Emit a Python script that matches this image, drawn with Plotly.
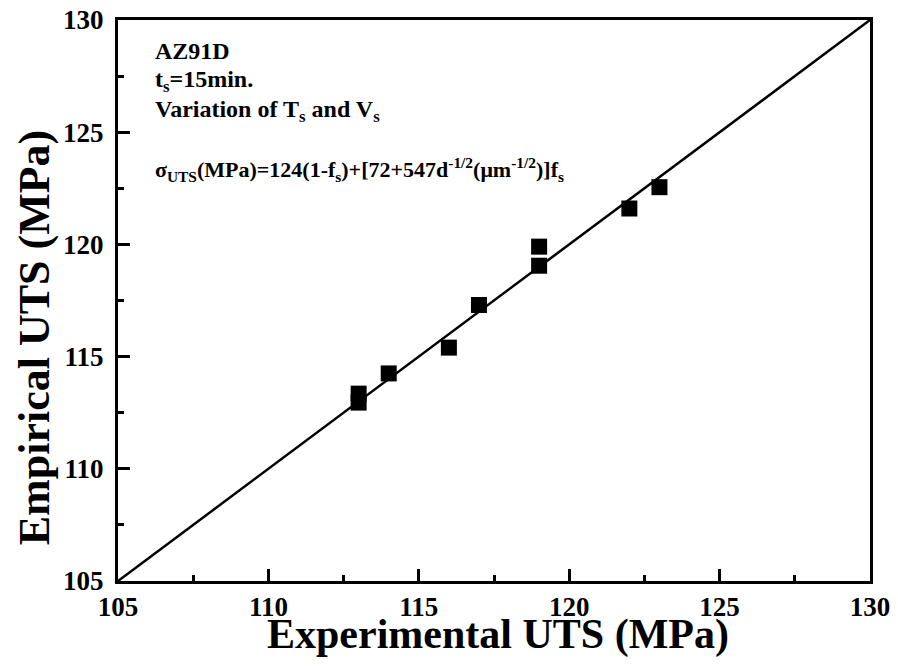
import plotly.graph_objects as go

experimental_uts = [113, 113, 114, 116, 117, 119, 119, 122, 123]
empirical_uts = [113.35, 112.95, 114.25, 115.4, 117.3, 119.9, 119.05, 121.6, 122.55]
line_x = [105, 130]
line_y = [105, 130]
tick_vals = [105, 110, 115, 120, 125, 130]

FONT = "Liberation Serif"

fig = go.Figure()
fig.add_trace(go.Scatter(x=line_x, y=line_y, mode="lines",
                         line=dict(color="black", width=2.5), showlegend=False))
fig.add_trace(go.Scatter(x=experimental_uts, y=empirical_uts, mode="markers",
                         marker=dict(symbol="square", size=16, color="black"),
                         showlegend=False))

axis_common = dict(
    showgrid=False, zeroline=False, showline=True, linecolor="black", linewidth=3,
    mirror=True, ticks="inside", ticklen=12, tickwidth=2.5, tickcolor="black",
    tickvals=tick_vals, automargin=False, ticklabeloverflow="allow",
    tickfont=dict(family=FONT, size=27, color="black", weight=700),
    minor=dict(ticks="inside", ticklen=6, tickwidth=2.5, tickcolor="black", dtick=2.5),
)

fig.update_xaxes(range=[105, 130], **axis_common)
fig.update_yaxes(range=[105, 130], ticklabelstandoff=6, **axis_common)

# axis titles
fig.add_annotation(text="Experimental UTS (MPa)", xref="paper", yref="paper",
                   x=0.505, y=-0.096, xanchor="center", yanchor="middle", showarrow=False,
                   font=dict(family=FONT, size=42, color="black", weight=700))
fig.add_annotation(text="Empirical UTS (MPa)", xref="paper", yref="paper",
                   x=-0.110, y=0.435, xanchor="center", yanchor="middle", showarrow=False,
                   textangle=-90,
                   font=dict(family=FONT, size=44, color="black", weight=700))

texts = [
    ("AZ91D", 0.945, 24),
    ("t<sub>s</sub>=15min.", 0.891, 24),
    ("Variation of T<sub>s</sub> and V<sub>s</sub>", 0.838, 24),
    ("σ<sub>UTS</sub>(MPa)=124(1-f<sub>s</sub>)+[72+547d<sup>-1/2</sup>(μm<sup>-1/2</sup>)]f<sub>s</sub>", 0.734, 22),
]
for t, yy, sz in texts:
    fig.add_annotation(text=t, xref="paper", yref="paper", x=0.047, y=yy,
                       xanchor="left", yanchor="middle", showarrow=False,
                       font=dict(family=FONT, size=sz, color="black", weight=700))

# page body has an 8px margin; shrink figure so the plot lands where the reference has it
fig.update_layout(
    width=890, height=661,
    margin=dict(l=110, r=28, t=12, b=88),
    plot_bgcolor="white", paper_bgcolor="white",
)

fig.write_html("out.html")
